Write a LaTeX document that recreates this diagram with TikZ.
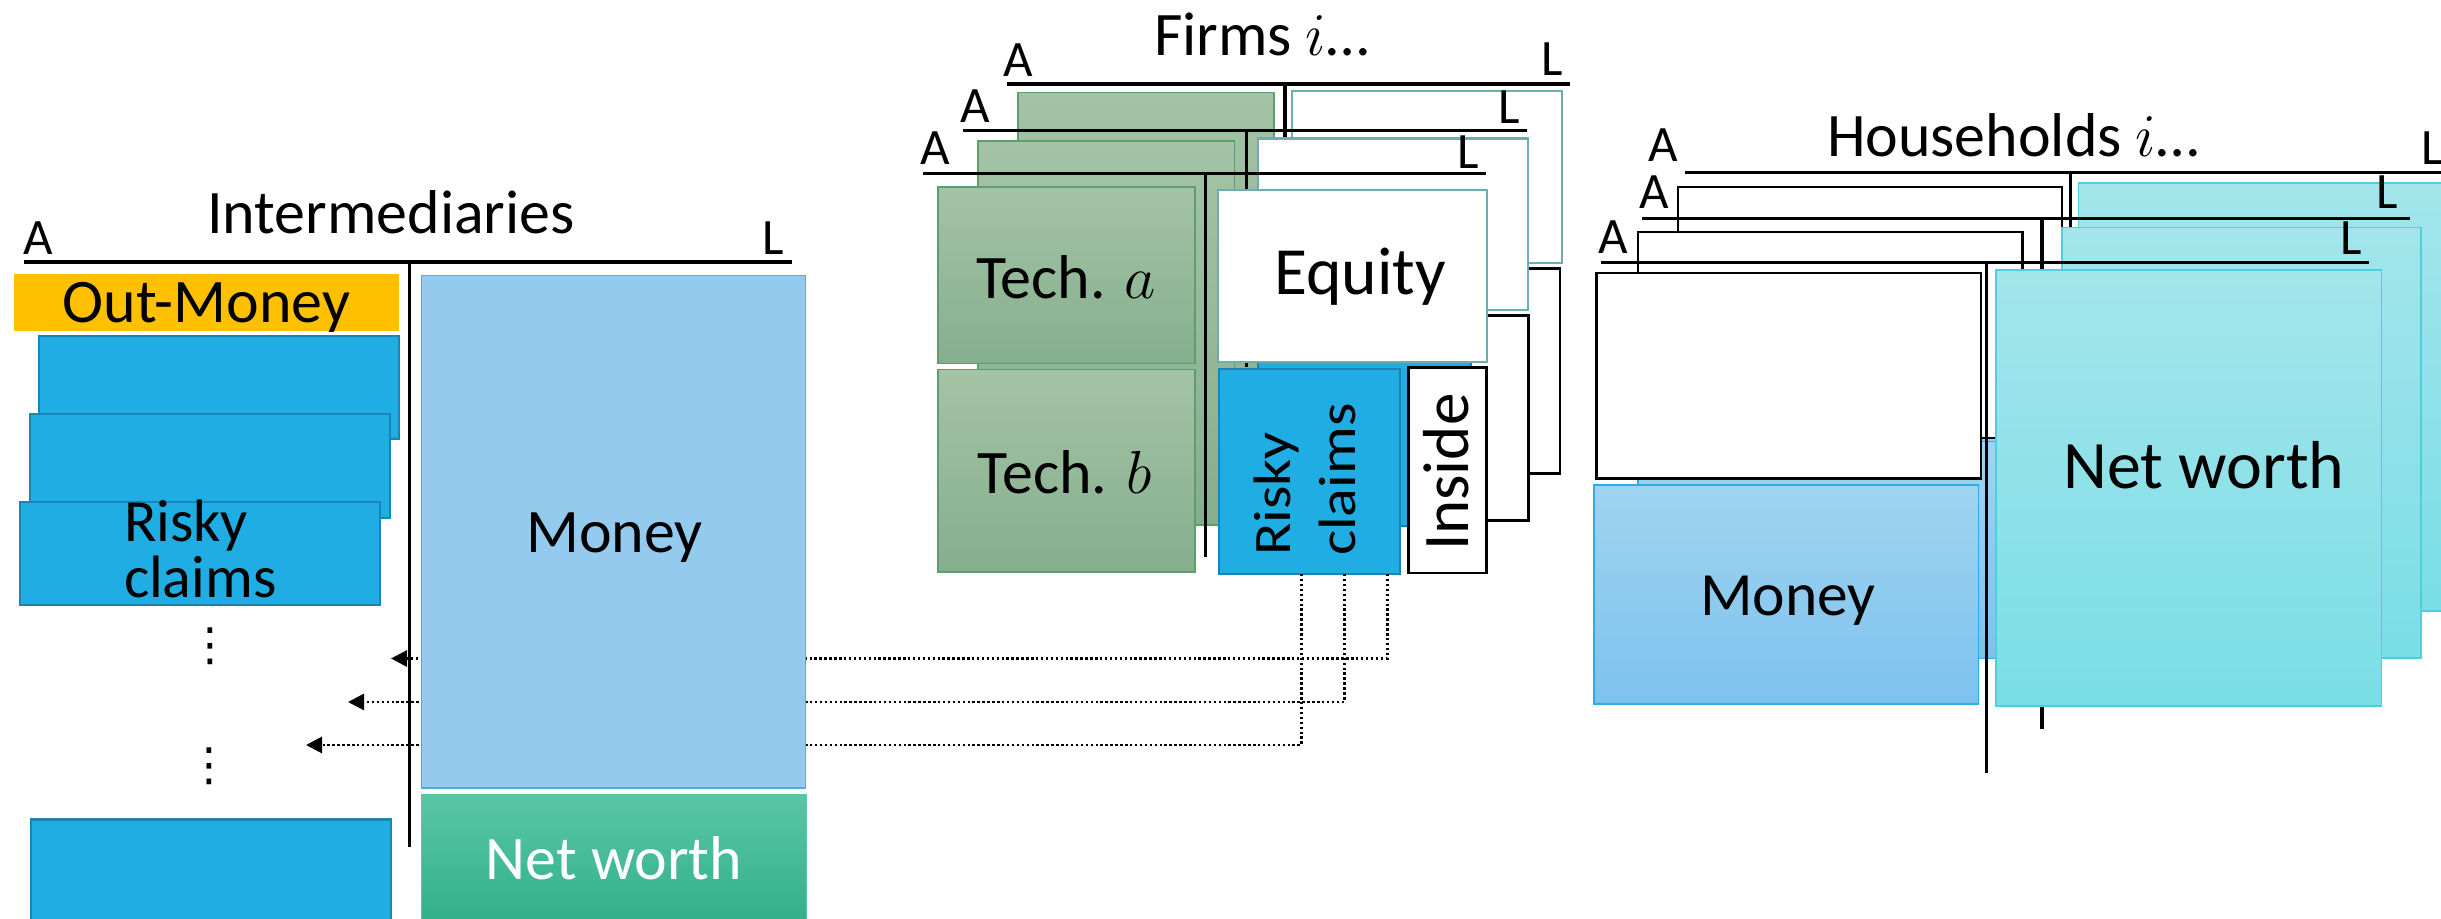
\documentclass[tikz,border=0pt]{standalone}
\usepackage{fontspec}
\setmainfont{Carlito}
\newfontfamily\dejavu{DejaVu Sans}
\usetikzlibrary{arrows.meta}

\definecolor{outmoney}{HTML}{FFC000}
\definecolor{riskfill}{HTML}{1FADE3}
\definecolor{riskdraw}{HTML}{1A84B6}
\definecolor{imoneyfill}{HTML}{94CAEE}
\definecolor{imoneydraw}{HTML}{45B0E6}
\definecolor{nwtop}{HTML}{5AC6A6}
\definecolor{nwbot}{HTML}{2DAE87}
\definecolor{techtop}{HTML}{A4C3A6}
\definecolor{techbot}{HTML}{85AF8C}
\definecolor{techdraw}{HTML}{5E9E6C}
\definecolor{eqdraw}{HTML}{6AAEAE}
\definecolor{hmtop}{HTML}{A0D4F1}
\definecolor{hmbot}{HTML}{7DC2EE}
\definecolor{hmdraw}{HTML}{2AAEE4}
\definecolor{hntop}{HTML}{A3E5EB}
\definecolor{hnbot}{HTML}{7ADEE5}
\definecolor{hndraw}{HTML}{4DD0DC}

% style, name, x1, y1, x2, y2, text
\newcommand\mkbox[7]{\node[#1, anchor=north west, minimum width={(#5-#3)*0.01cm}, minimum height={(#6-#4)*0.01cm}] (#2) at (#3,#4) {#7};}

\tikzset{
  every node/.style={inner sep=0pt, outer sep=0pt},
  tacc/.style={line width=1pt},
  albl/.style={anchor=base west, font=\fontsize{14.5}{16}\selectfont},
  lbl/.style={anchor=base, font=\fontsize{17.6}{20}\selectfont},
  vdotlbl/.style={anchor=base, font=\dejavu\fontsize{13}{14}\selectfont},
  riskbox/.style={fill=riskfill, draw=riskdraw, line width=0.6pt},
  techbox/.style={top color=techtop, bottom color=techbot, draw=techdraw, line width=0.45pt},
  eqbox/.style={fill=white, draw=eqdraw, line width=0.65pt},
  insbox/.style={fill=white, draw=black, line width=0.7pt},
  hwbox/.style={fill=white, draw=black, line width=0.65pt},
  hmbox/.style={top color=hmtop, bottom color=hmbot, draw=hmdraw, line width=0.45pt},
  hnbox/.style={top color=hntop, bottom color=hnbot, draw=hndraw, line width=0.45pt},
  omoney/.style={fill=outmoney},
  imbox/.style={fill=imoneyfill, draw=imoneydraw, line width=0.45pt},
  inwbox/.style={top color=nwtop, bottom color=nwbot, draw=nwtop, line width=0.45pt},
  dotarrow/.style={line width=0.85pt, dash pattern=on 0.7pt off 0.7pt, -{Triangle[length=4.6pt,width=4.6pt]}},
}

\begin{document}
\begin{tikzpicture}[x=0.01cm, y=-0.01cm]
\useasboundingbox (0,0) rectangle (2441,919);

%================ FIRMS =================
\node[lbl] (ftitle) at (1261.5,55.5) {Firms $i$…};
% back firm
\node[albl] (f3A) at (1003.6,76.5) {A};
\node[albl] (f3L) at (1541,75.5) {L};
\draw[tacc] (1007,84) -- (1570,84);
\draw[tacc] (1285,84) -- (1285,320);
\mkbox{techbox}{f3as}{1018}{92.6}{1274}{478}{}
\mkbox{eqbox}{f3eq}{1292}{91}{1562}{263}{}
\mkbox{insbox}{f3in}{1482}{268.4}{1560}{473.3}{}
\mkbox{riskbox}{f3r}{1299}{274}{1480}{478}{}
% middle firm
\node[albl] (f2A) at (960,122.5) {A};
\node[albl] (f2L) at (1498,123.7) {L};
\draw[tacc] (963,130.6) -- (1527,130.6);
\draw[tacc] (1246.7,130.6) -- (1246.7,367);
\mkbox{techbox}{f2as}{978}{141}{1234.5}{525}{}
\mkbox{eqbox}{f2eq}{1258}{138.5}{1528}{309.7}{}
\mkbox{insbox}{f2in}{1460}{315.5}{1528.3}{520.5}{}
\mkbox{riskbox}{f2r}{1258}{322}{1471}{526}{}
% front firm
\node[albl] (f1A) at (920,165) {A};
\node[albl] (f1L) at (1457.5,168.5) {L};
\draw[tacc] (923,173.6) -- (1486,173.6);
\draw[tacc] (1205.7,173.6) -- (1205.7,557);
\mkbox{techbox}{f1a}{938}{186.8}{1195}{363.3}{}
\mkbox{techbox}{f1b}{938}{369.3}{1195}{572}{}
\mkbox{eqbox}{f1eq}{1218.3}{190.2}{1487.3}{362}{}
\mkbox{riskbox}{f1r}{1219.3}{369}{1400}{574}{}
\mkbox{insbox}{f1in}{1408.7}{367.6}{1486.7}{573}{}
\node[lbl] (f1at) at (1066,298.3) {Tech. $a$};
\node[lbl] (f1bt) at (1064.5,493.3) {Tech. $b$};
\node[lbl, font=\fontsize{19.2}{21}\selectfont] (f1eqt) at (1360,295) {Equity};
\node[anchor=base west, rotate=90, yscale=0.88, font=\fontsize{17}{20}\selectfont] (f1rt1) at (1290,556) {Risky};
\node[anchor=base west, rotate=90, yscale=0.88, font=\fontsize{17}{20}\selectfont] (f1rt2) at (1355,556) {claims};
\node[anchor=base west, rotate=90, font=\fontsize{18.5}{20}\selectfont] (f1int) at (1468.3,551) {Inside};

%================ HOUSEHOLDS =================
\node[lbl] (htitle) at (2013,156.7) {Households $i$…};
% back household
\node[albl] (h3A) at (1648.6,161.7) {A};
\node[albl] (h3L) at (2421.5,165) {L};
\draw[tacc] (1685.4,172.3) -- (2460,172.3);
\draw[tacc] (2070.3,172.3) -- (2070.3,686);
\mkbox{hwbox}{h3w}{1677.7}{187.3}{2062}{391}{}
\mkbox{hmbox}{h3m}{1680}{397}{2060}{611}{}
\mkbox{hnbox}{h3n}{2078.5}{183.3}{2480}{611}{}
% middle household
\node[albl] (h2A) at (1639,208.3) {A};
\node[albl] (h2L) at (2376.5,209) {L};
\draw[tacc] (1642,218.3) -- (2410,218.3);
\draw[tacc] (2042,218.3) -- (2042,729.3);
\mkbox{hwbox}{h2w}{1638}{232.3}{2022.5}{437.7}{}
\mkbox{hmbox}{h2m}{1638}{441.7}{2020}{658.3}{}
\mkbox{hnbox}{h2n}{2062}{227.7}{2421}{658}{}
% front household
\node[albl] (h1A) at (1598,253.3) {A};
\node[albl] (h1L) at (2340.8,255) {L};
\draw[tacc] (1601,262.3) -- (2369,262.3);
\draw[tacc] (1986.5,262.3) -- (1986.5,773);
\mkbox{hwbox}{h1w}{1596.5}{272.7}{1981}{478.5}{}
\mkbox{hmbox}{h1m}{1594}{485}{1978.3}{704}{}
\mkbox{hnbox}{h1n}{1996}{270}{2381.5}{706}{}
\node[lbl, font=\fontsize{17.5}{20}\selectfont] (h1mt) at (1788,615.6) {Money};
\node[lbl, font=\fontsize{19.3}{21}\selectfont] (h1nt) at (2204,488.4) {Net worth};

%================ CONNECTORS =================
\coordinate (tip1) at (391,658.5);
\coordinate (tip2) at (348,702);
\coordinate (tip3) at (306,745);
\draw[dotarrow] ([xshift=0.775cm]f1r.south) |- (tip1);
\draw[dotarrow] ([xshift=0.345cm]f1r.south) |- (tip2);
\draw[dotarrow] ([xshift=-0.085cm]f1r.south) |- (tip3);

%================ INTERMEDIARIES =================
\node[lbl] (ititle) at (391,234) {Intermediaries};
\node[albl] (iA) at (24,255) {A};
\node[albl] (iL) at (762,255) {L};
\draw[tacc] (24,262) -- (792,262);
\draw[tacc] (409.5,262) -- (409.5,847);
\mkbox{omoney}{iout}{14}{274}{399}{331}{}
\mkbox{riskbox}{ir1}{39}{335.7}{399}{439}{}
\mkbox{riskbox}{ir2}{30.3}{414}{390}{518}{}
\mkbox{riskbox}{ir3}{20}{501.7}{380}{605}{}
\mkbox{riskbox}{ir4}{31}{819.5}{391}{935}{}
\mkbox{imbox}{imoney}{421.5}{275.7}{805.5}{788}{}
\mkbox{inwbox}{inw}{421.5}{795}{806.5}{935}{}
\node[lbl] (ioutt) at (206.5,323) {Out-Money};
\node[anchor=base west, font=\fontsize{17}{20}\selectfont] (ir3t1) at (124,541.5) {Risky};
\node[anchor=base west, font=\fontsize{17}{20}\selectfont] (ir3t2) at (124,598) {claims};
\node[vdotlbl] (idots1) at (210,661) {⋮};
\node[vdotlbl] (idots2) at (209,781) {⋮};
\node[lbl] (imt) at (614.5,553) {Money};
\node[lbl, text=white] (inwt) at (614,880) {Net worth};
\end{tikzpicture}
\end{document}
